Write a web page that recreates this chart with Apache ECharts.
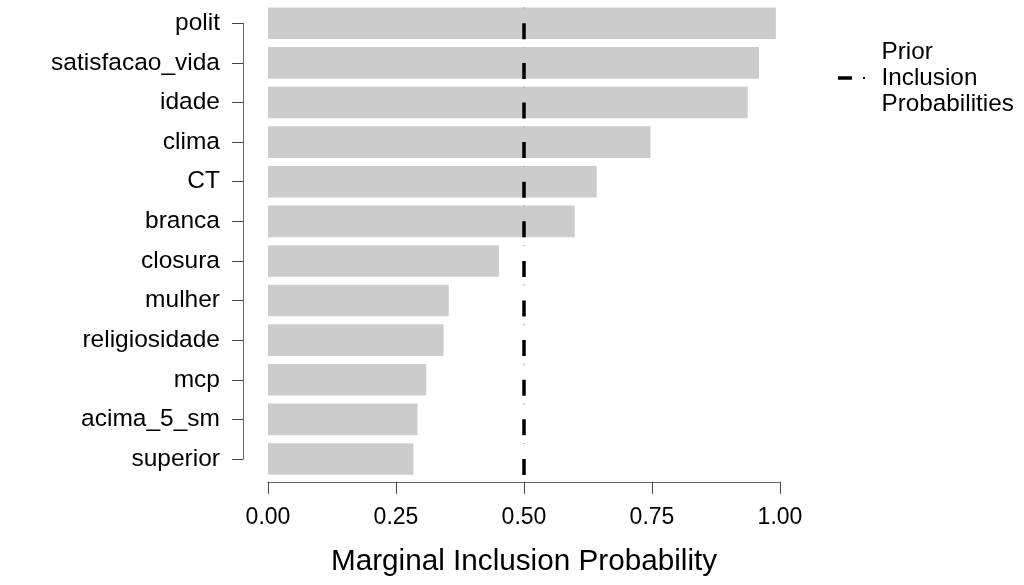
<!DOCTYPE html>
<html>
<head>
<meta charset="utf-8">
<script src="https://cdn.jsdelivr.net/npm/echarts@6/dist/echarts.min.js"></script>
<style>
html,body{margin:0;padding:0;background:#fff;}
#c{width:1024px;height:585px;}
</style>
</head>
<body>
<div id="c"></div>
<script>
const categories = ['polit','satisfacao_vida','idade','clima','CT','branca','closura','mulher','religiosidade','mcp','acima_5_sm','superior'];
const inclusionProb = [0.992,0.959,0.937,0.747,0.642,0.599,0.451,0.353,0.343,0.309,0.292,0.284];
const priorProb = 0.5;
const xTicks = [0, 0.25, 0.5, 0.75, 1];

const FONT = '"Liberation Sans", Arial, sans-serif';
const chart = echarts.init(document.getElementById('c'), null, {renderer:'canvas'});

const option = {
  backgroundColor:'#fff',
  animation:false,
  grid:[
    {left:268, right:244, top:3.5, height:475.3, containLabel:false},
    {left:243, width:1, top:23.3, height:435.7, containLabel:false}
  ],
  legend:{
    data:['Prior Inclusion Probabilities'],
    left:833, top:34, orient:'vertical',
    icon:'path://M0,0h14v3.6h-14z M25,0.9h2v1.8h-2z',
    itemWidth:28, itemHeight:3.6,
    formatter:()=> 'Prior\nInclusion\nProbabilities',
    itemStyle:{color:'#000'},
    textStyle:{fontFamily:FONT, fontSize:24.3, lineHeight:26, color:'#000', padding:[0,0,0,11]}
  },
  xAxis:[
    {type:'value', gridIndex:0, min:0, max:1, interval:0.25, offset:3,
     name:'Marginal Inclusion Probability', nameLocation:'middle', nameGap:65,
     nameTextStyle:{fontFamily:FONT, fontSize:29.7, color:'#000'},
     axisLine:{show:true, lineStyle:{color:'#666', width:1}},
     axisTick:{show:true, length:12, lineStyle:{color:'#444', width:1}},
     axisLabel:{margin:24, fontFamily:FONT, fontSize:23, color:'#000', formatter:v=>v.toFixed(2)},
     splitLine:{show:false}},
    {type:'value', gridIndex:1, show:false}
  ],
  yAxis:[
    {type:'category', gridIndex:0, data:categories, inverse:true, show:false},
    {type:'category', gridIndex:1, data:categories, inverse:true, boundaryGap:false,
     axisLine:{show:true, lineStyle:{color:'#666', width:1}},
     axisTick:{show:true, length:11, alignWithLabel:true, lineStyle:{color:'#444', width:1}},
     axisLabel:{margin:23, fontFamily:FONT, fontSize:24.5, color:'#000'},
     splitLine:{show:false}}
  ],
  series:[
    {type:'bar', name:'Marginal', xAxisIndex:0, yAxisIndex:0, data:inclusionProb,
     barWidth:31.6, itemStyle:{color:'#cccccc'}, silent:true},
    {type:'line', name:'Prior Inclusion Probabilities', xAxisIndex:0, yAxisIndex:0, data:[],
     itemStyle:{color:'#000'}, lineStyle:{color:'#000'},
     markLine:{silent:true, symbol:['none','none'], label:{show:false},
       lineStyle:{color:'#000', width:3.5, type:[16,23.6], dashOffset:19.8},
       data:[
         {xAxis:priorProb, lineStyle:{color:'#aaa', width:1.5, type:[1.2,38.4], dashOffset:35.8}},
         {xAxis:priorProb}
       ]}}
  ]
};
chart.setOption(option);
</script>
</body>
</html>
